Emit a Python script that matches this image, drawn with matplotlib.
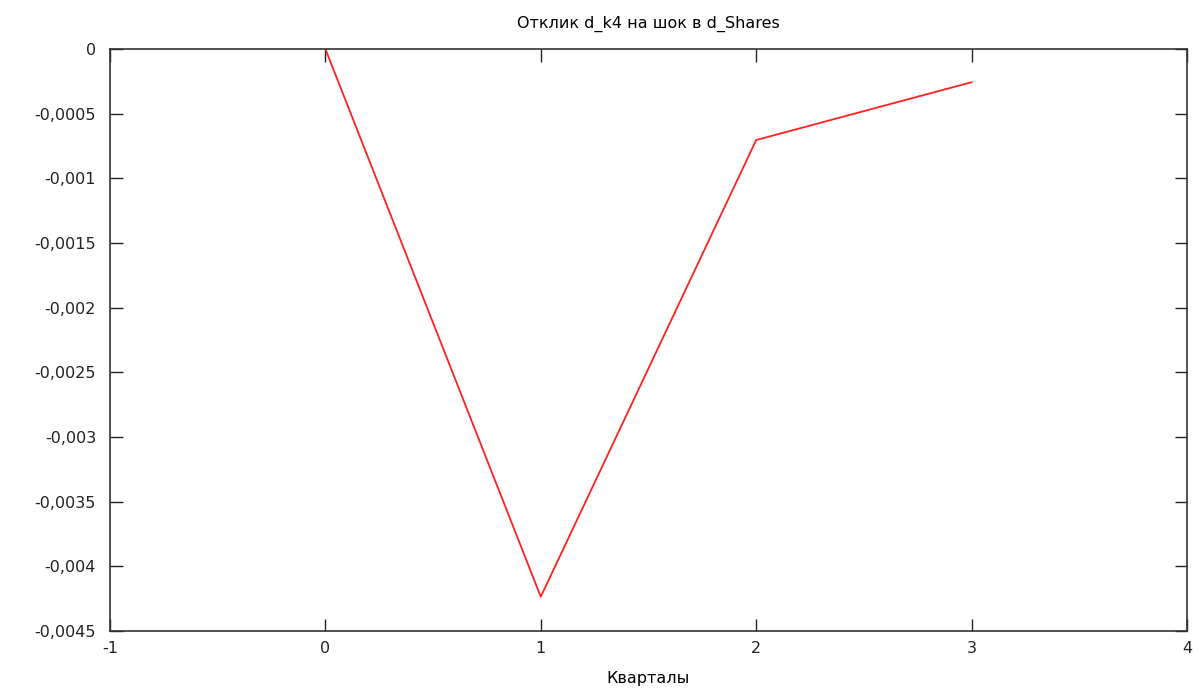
import matplotlib
matplotlib.use("Agg")
import matplotlib.pyplot as plt
from matplotlib.ticker import FuncFormatter

quarters = [0, 1, 2, 3]
response = [0.0, -0.004235, -0.000704, -0.000257]

x_ticks = [-1, 0, 1, 2, 3, 4]
y_ticks = [0, -0.0005, -0.001, -0.0015, -0.002, -0.0025, -0.003, -0.0035, -0.004, -0.0045]

plt.rcParams['font.family'] = ['DejaVu Sans']
plt.rcParams['axes.unicode_minus'] = False

fig = plt.figure(figsize=(12.02, 6.88), dpi=100)
ax = fig.add_axes([0.0915, 0.0828, 0.896, 0.846])

ax.plot(quarters, response, color="#ff2020", linewidth=1.3)

ax.set_xlim(-1, 4)
ax.set_ylim(-0.0045, 0)
ax.set_xticks(x_ticks)
ax.set_yticks(y_ticks)
ax.yaxis.set_major_formatter(FuncFormatter(lambda v, p: f"{v:g}".replace(".", ",")))

ax.tick_params(direction="in", length=9, width=1, labelsize=11.5, top=True, right=True,
               colors="#222222")
ax.tick_params(axis="x", pad=7)
ax.tick_params(axis="y", pad=10)
for s in ax.spines.values():
    s.set_linewidth(1.2)
    s.set_color("#333333")

ax.set_title("Отклик d_k4 на шок в d_Shares", fontsize=11.5, pad=15)
ax.set_xlabel("Кварталы", fontsize=11.5, labelpad=11)

fig.savefig("out.png", dpi=100)
